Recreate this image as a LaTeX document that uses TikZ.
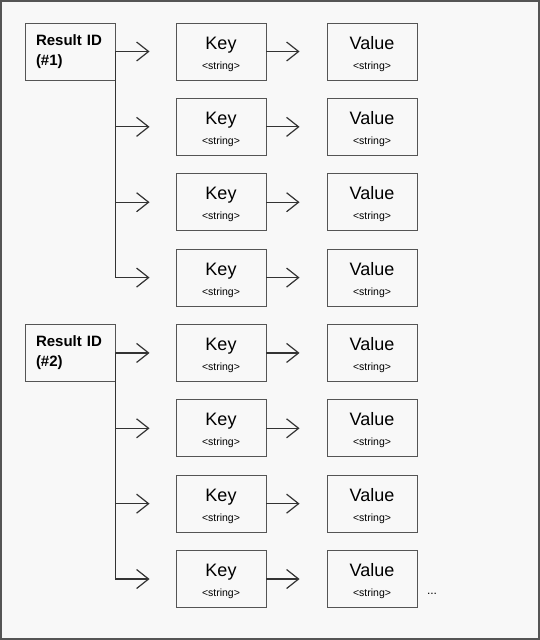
\documentclass[tikz,border=0pt]{standalone}
\usepackage{fontspec}
\setmainfont{Liberation Sans}
\usetikzlibrary{positioning,arrows.meta}
\definecolor{edge}{HTML}{333333}
\definecolor{rim}{HTML}{555555}
\definecolor{paper}{HTML}{F8F8F8}
\tikzset{
  cell/.style={draw=rim,fill=paper,line width=0.9pt,minimum width=90pt,minimum height=57pt,inner sep=0pt,align=center,font=\fontsize{10.5}{20}\selectfont},
  rid/.style={cell,align=left,text width=68pt,font=\bfseries\fontsize{15}{20}\selectfont},
  arr/.style={-{Straight Barb[length=12pt,width=19pt,line width=1.2pt]},line width=1.2pt,edge},
}
\newcommand{\kv}[2]{% key/value pair in row #1, centred at height #2
  \node[cell] (k#1) at (221,#2) {\rule{0pt}{17.5pt}{\fontsize{18}{20}\selectfont Key}\\<string>};
  \node[cell] (v#1) at (372,#2) {\rule{0pt}{17.5pt}{\fontsize{18}{20}\selectfont Value}\\<string>};
  \draw[arr,shorten >=27pt] (k#1) -- (v#1);}

\begin{document}
\begin{tikzpicture}[x=1pt,y=-1pt]
\useasboundingbox (0,0) rectangle (540,640);
\draw[rim,fill=paper,line width=2pt] (1,1) rectangle (539,639);
\foreach \i in {1,...,8}{
  \pgfmathsetmacro\ry{51.5+75.36*(\i-1)}
  \kv{\i}{\ry}
}
\node[rid] (r1) at (70,51.5) {Result ID\\(\#1)};
\node[rid] (r2) at (70,352.9) {Result ID\\(\#2)};
\foreach \i in {1,...,4} \draw[arr,shorten >=26pt] (r1.east) |- (k\i.west);
\foreach \i in {5,...,8} \draw[arr,shorten >=26pt] (r2.east) |- (k\i.west);
\node[font=\fontsize{12}{14}\selectfont] (more) at (432,594) {...};
\end{tikzpicture}
\end{document}
